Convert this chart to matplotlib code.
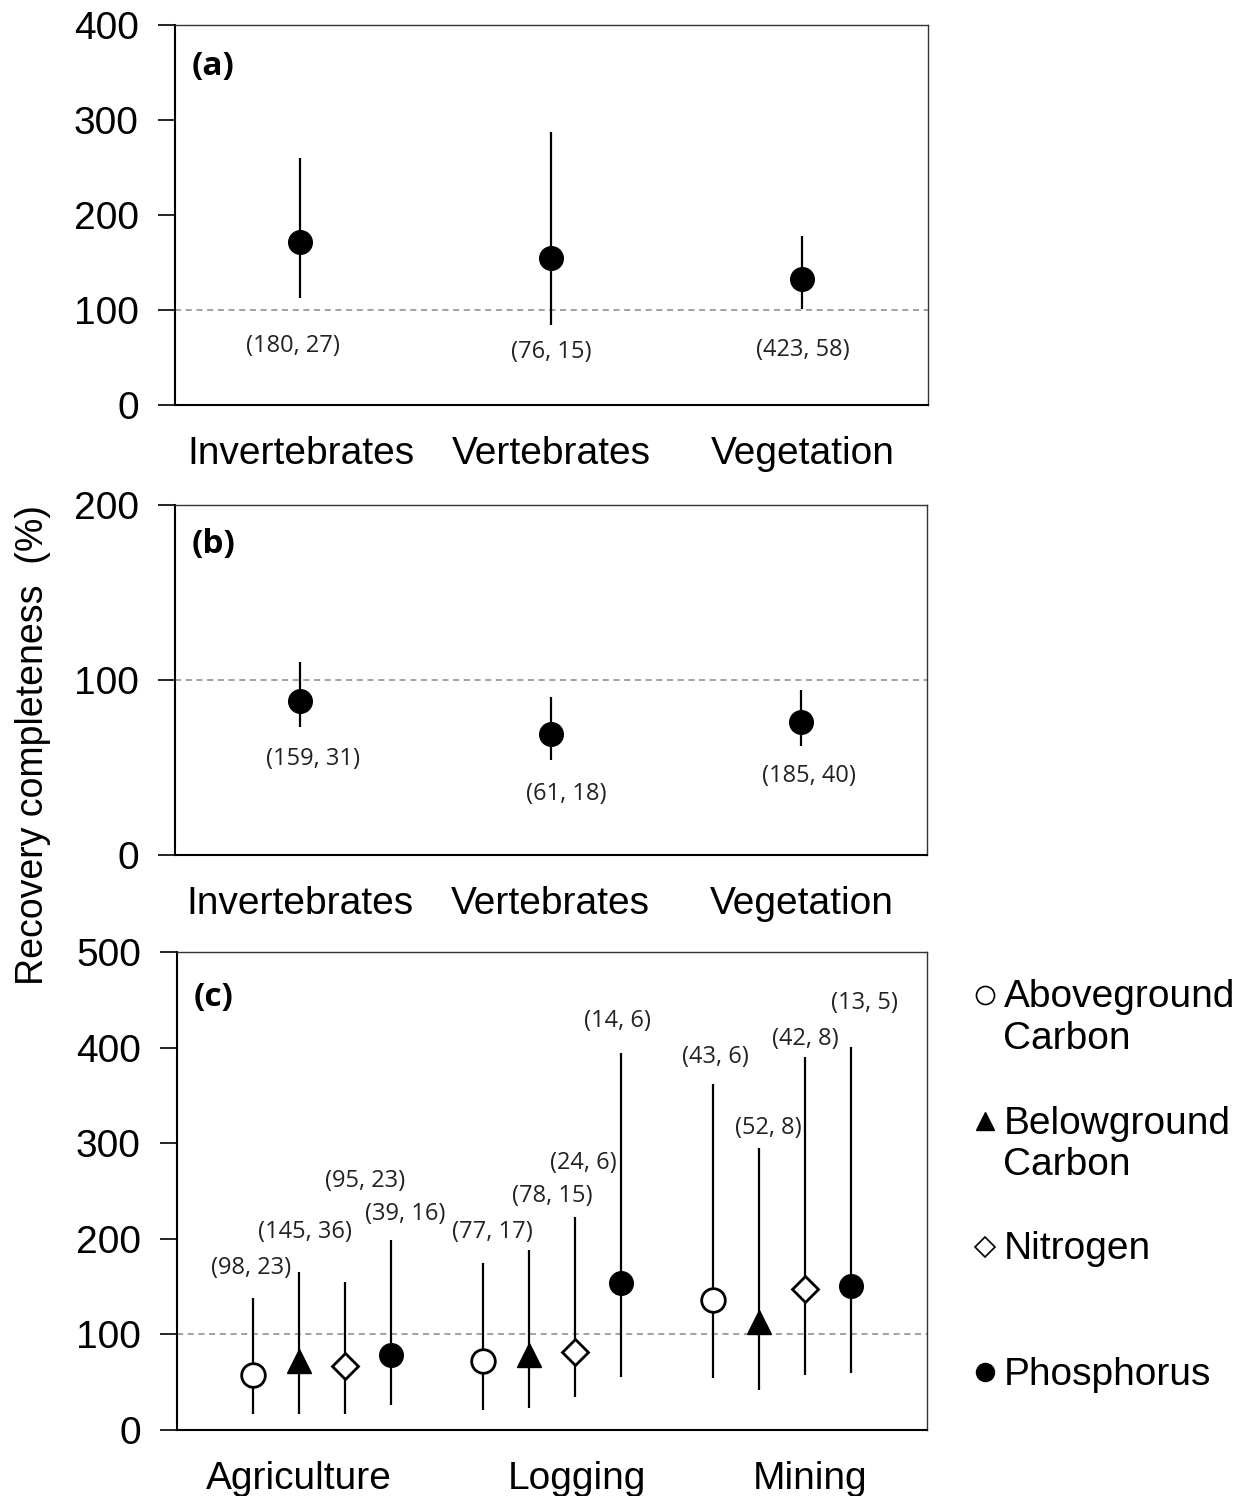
import numpy as np
import matplotlib
matplotlib.use("Agg")
import matplotlib.pyplot as plt
from matplotlib.lines import Line2D

# ==============================
# DATA
# ==============================
taxa = ["Invertebrates", "Vertebrates", "Vegetation"]

# panel (a)
a_mean = [172, 155, 133]
a_low = [113, 84, 101]
a_high = [260, 287, 178]
a_n = ["(180, 27)", "(76, 15)", "(423, 58)"]

# panel (b)
b_mean = [88, 69, 76]
b_low = [73, 54, 62]
b_high = [110, 90, 94]
b_n = ["(159, 31)", "(61, 18)", "(185, 40)"]

# panel (c)
land_uses = ["Agriculture", "Logging", "Mining"]
soil_vars = ["Aboveground\nCarbon", "Belowground\nCarbon", "Nitrogen", "Phosphorus"]
c_mean = [
    [58, 72, 67, 79],       # Agriculture
    [72, 79, 82, 154],      # Logging
    [136, 113, 148, 151],   # Mining
]
c_low = [
    [17, 17, 17, 26],
    [21, 23, 35, 55],
    [54, 42, 58, 60],
]
c_high = [
    [138, 165, 155, 199],
    [175, 188, 223, 394],
    [362, 295, 390, 401],
]
c_n = [
    ["(98, 23)", "(145, 36)", "(95, 23)", "(39, 16)"],
    ["(77, 17)", "(78, 15)", "(24, 6)", "(14, 6)"],
    ["(43, 6)", "(52, 8)", "(42, 8)", "(13, 5)"],
]

# ==============================
# LAYOUT / STYLE
# ==============================
plt.rcParams["font.family"] = ["Liberation Sans", "DejaVu Sans"]
TICK_FS = 28
ANN_FONT = "Open Sans"
ANN_FS = 17

a_ann_y = [62, 56, 58]
b_ann_y = [55, 35, 45]
b_ann_dx = [0.05, 0.06, 0.03]
c_ann_pos = [
    [(-0.05, 169), (1.13, 207), (2.43, 261), (3.3, 226)],
    [(5.2, 207), (6.5, 245), (7.17, 279), (7.93, 428)],
    [(10.04, 390), (11.2, 316), (12.0, 409), (13.3, 447)],
]
markers = [
    dict(marker="o", mfc="white", mec="black", ms=17, mew=2),
    dict(marker="^", mfc="black", mec="black", ms=17, mew=1),
    dict(marker="D", mfc="white", mec="black", ms=13, mew=2),
    dict(marker="o", mfc="black", mec="black", ms=17, mew=1),
]

fig = plt.figure(figsize=(12.59, 14.96), dpi=100)


def style_axes(ax, ymax, step):
    ax.set_ylim(0, ymax)
    ax.set_yticks(np.arange(0, ymax + 1, step))
    ax.axhline(100, color="#888888", lw=1.1, ls=(0, (4, 3)), zorder=0)
    for s in ["top", "right"]:
        ax.spines[s].set_linewidth(1.0)
        ax.spines[s].set_color("#333333")
    for s in ["left", "bottom"]:
        ax.spines[s].set_linewidth(1.5)
    ax.tick_params(axis="y", direction="out", length=12, width=1.2,
                   labelsize=TICK_FS, pad=14)
    ax.tick_params(axis="x", length=0, labelsize=TICK_FS, pad=22)


def taxa_panel(rect, mean, low, high, labels, ann_y, ann_dx, ymax, step, tag):
    ax = fig.add_axes(rect)
    x = np.arange(1, len(taxa) + 1)
    ax.vlines(x, low, high, color="black", lw=1.6)
    ax.plot(x, mean, "o", color="black", ms=17)
    for xi, lab, yy, dx in zip(x, labels, ann_y, ann_dx):
        ax.text(xi + dx, yy, lab, ha="center", va="center",
                fontsize=ANN_FS, family=ANN_FONT, color="#222222")
    ax.set_xlim(0.5, 3.5)
    ax.set_xticks(x)
    ax.set_xticklabels(taxa)
    style_axes(ax, ymax, step)
    ax.text(0.022, 0.935, tag, transform=ax.transAxes, ha="left", va="top",
            fontsize=24, fontweight="bold", family="Open Sans")
    return ax


# (a)
taxa_panel([0.139, 0.7293, 0.598, 0.254], a_mean, a_low, a_high, a_n,
           a_ann_y, [-0.03, 0.0, 0.0], 400, 100, "(a)")

# (b)
taxa_panel([0.139, 0.4285, 0.597, 0.234], b_mean, b_low, b_high, b_n,
           b_ann_y, b_ann_dx, 200, 100, "(b)")

# (c)
axc = fig.add_axes([0.1406, 0.0441, 0.5957, 0.3195])
for g in range(len(land_uses)):
    for k in range(len(soil_vars)):
        xx = g * 5 + k
        axc.vlines(xx, c_low[g][k], c_high[g][k], color="black", lw=1.6)
        axc.plot(xx, c_mean[g][k], ls="none", zorder=3, **markers[k])
        px, py = c_ann_pos[g][k]
        axc.text(px, py, c_n[g][k], ha="center", va="center",
                 fontsize=ANN_FS, family=ANN_FONT, color="#222222")
axc.set_xlim(-1.65, 14.65)
axc.set_xticks([1.0, 7.05, 12.1])
axc.set_xticklabels(land_uses)
style_axes(axc, 500, 100)
axc.text(0.022, 0.94, "(c)", transform=axc.transAxes, ha="left", va="top",
         fontsize=24, fontweight="bold", family="Open Sans")

# legend (manual, uneven spacing like the original)
leg_y = [0.335, 0.2505, 0.1665, 0.0827]
leg_ms = [dict(marker="o", mfc="white", mec="black", ms=13, mew=1.2),
          dict(marker="^", mfc="black", mec="black", ms=13, mew=1),
          dict(marker="D", mfc="white", mec="black", ms=10, mew=1.2),
          dict(marker="o", mfc="black", mec="black", ms=13, mew=1)]
for lab, yy, mk in zip(soil_vars, leg_y, leg_ms):
    fig.add_artist(Line2D([0.7825], [yy], transform=fig.transFigure,
                          ls="none", **mk))
    fig.text(0.797, yy + 0.0105, lab, ha="left", va="top", fontsize=28,
             linespacing=1.2)

fig.text(0.026, 0.502, "Recovery completeness  (%)", rotation=90,
         ha="center", va="center", fontsize=27)

fig.savefig("out.png", dpi=100)
